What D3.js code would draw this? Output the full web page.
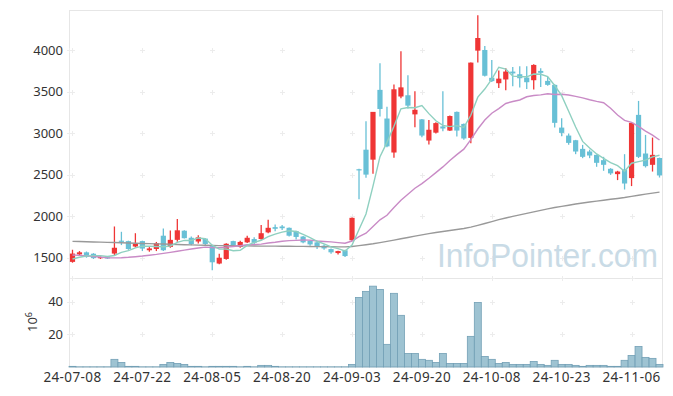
<!DOCTYPE html>
<html><head><meta charset="utf-8">
<script src="https://cdn.jsdelivr.net/npm/d3@7"></script>
<style>html,body{margin:0;padding:0;background:#fff;}svg{display:block;}</style>
</head><body><svg id="c" width="673" height="396"></svg>
<script>
const dates = ["24-07-08","24-07-09","24-07-10","24-07-11","24-07-12","24-07-15","24-07-16","24-07-17","24-07-18","24-07-19",
"24-07-22","24-07-23","24-07-24","24-07-25","24-07-26","24-07-29","24-07-30","24-07-31","24-08-01","24-08-02",
"24-08-05","24-08-06","24-08-07","24-08-08","24-08-09","24-08-12","24-08-13","24-08-14","24-08-16","24-08-19",
"24-08-20","24-08-21","24-08-22","24-08-23","24-08-26","24-08-27","24-08-28","24-08-29","24-08-30","24-09-02",
"24-09-03","24-09-04","24-09-05","24-09-06","24-09-09","24-09-10","24-09-11","24-09-12","24-09-13","24-09-19",
"24-09-20","24-09-23","24-09-24","24-09-25","24-09-26","24-09-27","24-09-30","24-10-02","24-10-04","24-10-07",
"24-10-08","24-10-10","24-10-11","24-10-14","24-10-15","24-10-16","24-10-17","24-10-18","24-10-21","24-10-22",
"24-10-23","24-10-24","24-10-25","24-10-28","24-10-29","24-10-30","24-10-31","24-11-01","24-11-04","24-11-05",
"24-11-06","24-11-07","24-11-08","24-11-11","24-11-12"];
const xTickLabels = ["24-07-08","24-07-22","24-08-05","24-08-20","24-09-03","24-09-20","24-10-08","24-10-23","24-11-06"];
const open = [1450,1540,1565,1548,1495,1505,1550,1705,1700,1635,
1700,1590,1605,1765,1630,1715,1825,1740,1695,1730,
1640,1430,1485,1700,1630,1685,1725,1725,1805,1868,
1876,1860,1820,1755,1705,1685,1645,1604,1556,1590,
1710,2565,2800,2680,3520,3175,2766,3440,3455,3225,
3165,2910,3005,3080,3030,3255,3110,2942,3992,4000,
3665,3600,3645,3740,3708,3668,3636,3748,3628,3580,
3066,2970,2914,2810,2778,2738,2674,2570,2506,2562,
2458,3219,2754,2618,2700];
const high = [1596,1580,1575,1555,1515,1520,1876,1812,1705,1795,
1705,1628,1690,1852,1828,1965,1830,1755,1770,1735,
1650,1548,1675,1705,1705,1764,1745,1893,1957,1900,
1895,1865,1825,1760,1710,1690,1660,1610,1585,1595,
1985,2570,3143,3255,3840,3318,3583,3985,3695,3503,
3170,3158,3130,3503,3210,3260,3115,3848,4417,4048,
3880,3752,3780,3796,3804,3804,3828,3780,3676,3588,
3179,2995,2918,2858,2800,2742,2714,2578,2546,2746,
3123,3387,2978,2946,2705];
const low = [1440,1532,1500,1485,1485,1485,1532,1652,1595,1625,
1580,1572,1580,1580,1620,1692,1730,1650,1670,1645,
1348,1420,1475,1635,1620,1676,1665,1715,1795,1820,
1835,1755,1720,1675,1645,1604,1596,1548,1540,1510,
1700,2205,2462,2510,3198,2830,2702,3420,3295,3071,
2950,2862,2995,3023,3025,2958,2920,2878,3848,3680,
3616,3543,3516,3563,3547,3531,3523,3555,3570,3066,
2963,2858,2746,2698,2698,2594,2546,2497,2434,2321,
2362,2700,2586,2537,2465];
const close = [1550,1565,1510,1495,1508,1500,1620,1695,1605,1670,
1610,1612,1675,1590,1715,1830,1735,1665,1745,1665,
1445,1500,1668,1645,1690,1740,1680,1795,1860,1848,
1855,1765,1750,1685,1660,1630,1612,1565,1580,1520,
1980,2555,2500,3255,3290,2840,3527,3550,3330,3280,
2970,3040,3120,3055,3205,3030,2935,3848,4144,3690,
3625,3655,3740,3718,3660,3612,3820,3725,3580,3123,
3002,2882,2778,2714,2730,2642,2618,2515,2537,2393,
3123,2714,2602,2738,2490];
const volume = [0.4,0.1,0.1,0.1,0.1,0.1,4.7,2.8,0.4,0.4,
0.1,0.1,0.1,1.6,2.8,2.2,1.6,0.4,0.4,0.1,
0.4,0.4,0.4,0.4,0.1,0.4,0.1,1.0,1.0,0.4,
0.1,0.1,0.1,0.1,0.1,0.1,0.1,0.1,0.1,0.1,
1.6,42.7,46.4,49.6,47.6,13.9,45.2,31.7,8.3,8.3,
4.7,4.1,2.8,8.3,2.2,2.2,2.2,18.8,39.6,6.5,
4.7,2.2,2.8,1.6,1.6,1.6,3.4,1.6,1.0,4.1,
1.6,1.6,1.0,0.4,1.0,1.0,1.0,0.4,0.4,4.1,
7.1,12.6,5.9,5.3,1.6];
// moving-average values that depend on days before the window
const ma5Head = [1485,1505,1520,1525];
const ma20Head = [1532,1528,1522,1515,1508,1500,1498,1500,1505,1512,1520,1530,1540,1552,1565,1578,1592,1605,1617];
const ma120 = [1697,1695,1692,1690,1688,1685,1683,1680,1678,1675,
1672,1670,1667,1665,1662,1660,1657,1655,1652,1650,
1648,1646,1645,1644,1643,1642,1641,1640,1640,1639,
1638,1638,1637,1636,1635,1634,1633,1632,1631,1630,
1635,1645,1656,1668,1682,1697,1712,1728,1744,1760,
1775,1790,1803,1815,1827,1840,1852,1868,1890,1912,
1935,1958,1978,1997,2015,2033,2052,2070,2088,2104,
2118,2132,2146,2158,2170,2181,2192,2203,2213,2224,
2238,2252,2265,2278,2290];
const priceTicks = [1500,2000,2500,3000,3500,4000];
const volTicks = [20,40];

const svg = d3.select("#c");
const L = 69, R = 663, T = 10, PB = 278, VB = 367;
const idx = d3.range(dates.length);
const x = d3.scaleBand().domain(idx).range([L, R]).padding(0);
const cx = i => x(i) + x.bandwidth()/2;
const y = d3.scaleLinear().domain([1256, 4481]).range([PB, T]);
const yv = d3.scaleLinear().domain([0, 54.6]).range([VB, PB]);

const ma = (n, head) => idx.map(i => i < head.length ? head[i] : d3.mean(close.slice(i-n+1, i+1)));
const ma5 = ma(5, ma5Head), ma20 = ma(20, ma20Head);

// frames
svg.append("rect").attr("x",L+0.5).attr("y",T+0.5).attr("width",R-L-1).attr("height",PB-T).attr("fill","none").attr("stroke","#e6e6e6");
svg.append("rect").attr("x",L+0.5).attr("y",PB+0.5).attr("width",R-L-1).attr("height",VB-PB-0.5).attr("fill","none").attr("stroke","#e6e6e6");

// plus-grid
const tickIdx = xTickLabels.map(d => dates.indexOf(d));
const plus = (px, py) => {
  svg.append("path").attr("d",`M${px-2.5},${py}H${px+2.5}M${px},${py-2.5}V${py+2.5}`).attr("stroke","#ececec").attr("stroke-width",1);
};
tickIdx.forEach(i => {
  priceTicks.forEach(p => plus(Math.round(cx(i))+0.5, Math.round(y(p))+0.5));
  volTicks.forEach(v => plus(Math.round(cx(i))+0.5, Math.round(yv(v))+0.5));
  plus(Math.round(cx(i))+0.5, PB+0.5);
});
priceTicks.forEach(p => plus(L+0.5, Math.round(y(p))+0.5));
volTicks.forEach(v => plus(L+0.5, Math.round(yv(v))+0.5));

// watermark
svg.append("text").attr("x",437).attr("y",267).attr("font-family","Liberation Sans, Arial, sans-serif")
  .attr("font-size",34).attr("fill","#c9dbe6").attr("textLength",221).attr("lengthAdjust","spacingAndGlyphs").text("InfoPointer.com");

// volume bars
svg.append("g").selectAll("rect").data(idx).join("rect")
  .attr("x", i => x(i)).attr("width", x.bandwidth())
  .attr("y", i => yv(volume[i])).attr("height", i => VB - yv(volume[i]))
  .attr("fill","#93bccd").attr("fill-opacity",0.9).attr("stroke","#73a0b6").attr("stroke-width",0.8);

// candles
const up = "#ef3535", down = "#68c0d6";
const cg = svg.append("g");
idx.forEach(i => {
  const col = close[i] >= open[i] ? up : down;
  cg.append("line").attr("x1",cx(i)).attr("x2",cx(i)).attr("y1",y(high[i])).attr("y2",y(low[i])).attr("stroke",col).attr("stroke-width",1.3);
  const top = y(Math.max(open[i],close[i])), bot = y(Math.min(open[i],close[i]));
  cg.append("rect").attr("x",cx(i)-2.6).attr("width",5.2).attr("y",top).attr("height",Math.max(1.2,bot-top)).attr("fill",col);
});

// moving averages
const line = d3.line().x((d,i)=>cx(i)).y(d=>y(d));
svg.append("path").datum(ma120).attr("d",line).attr("fill","none").attr("stroke","#999").attr("stroke-width",1.4);
svg.append("path").datum(ma20).attr("d",line).attr("fill","none").attr("stroke","#c98bc6").attr("stroke-width",1.4);
svg.append("path").datum(ma5).attr("d",line).attr("fill","none").attr("stroke","#8fd0c0").attr("stroke-width",1.4);

// axes labels
const font = "Noto Sans, Open Sans, sans-serif";
priceTicks.forEach(p => svg.append("text").attr("x",63).attr("y",y(p)).attr("dy","0.36em").attr("text-anchor","end")
  .attr("font-family",font).attr("font-size",13).attr("fill","#333").text(p));
volTicks.forEach(v => svg.append("text").attr("x",63).attr("y",yv(v)).attr("dy","0.36em").attr("text-anchor","end")
  .attr("font-family",font).attr("font-size",13).attr("fill","#333").text(v));
tickIdx.forEach((i,k) => svg.append("text").attr("x",cx(i)).attr("y",382).attr("text-anchor","middle")
  .attr("font-family",font).attr("font-size",13.5).attr("letter-spacing",0.4).attr("fill","#333").text(xTickLabels[k]));
const yl = svg.append("text").attr("transform","translate(37,322) rotate(-90)").attr("text-anchor","middle")
  .attr("font-family",font).attr("font-size",13).attr("fill","#333");
yl.append("tspan").text("10");
yl.append("tspan").attr("dy",-5).attr("font-size",9).text("6");
</script></body></html>
